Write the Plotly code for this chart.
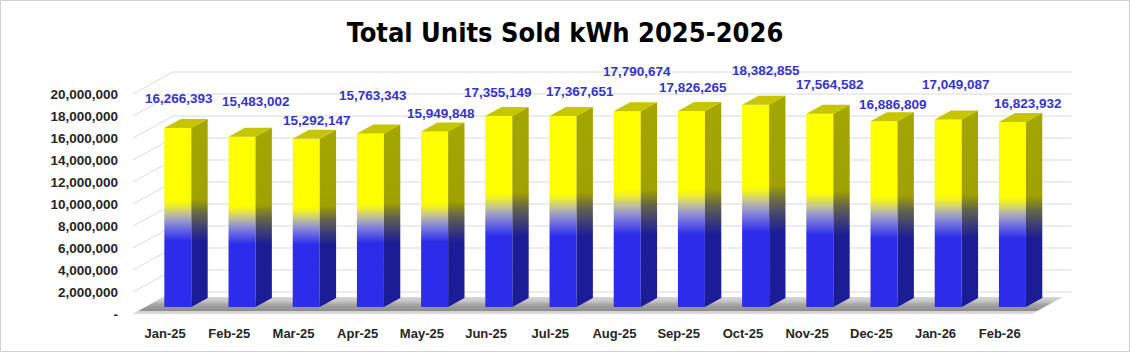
import plotly.graph_objects as go

# ---------------- data ----------------
months = ["Jan-25", "Feb-25", "Mar-25", "Apr-25", "May-25", "Jun-25", "Jul-25",
          "Aug-25", "Sep-25", "Oct-25", "Nov-25", "Dec-25", "Jan-26", "Feb-26"]
units_kwh = [16266393, 15483002, 15292147, 15763343, 15949848, 17355149, 17367651,
             17790674, 17826265, 18382855, 17564582, 16886809, 17049087, 16823932]
y_tick_vals = [0, 2000000, 4000000, 6000000, 8000000, 10000000, 12000000,
               14000000, 16000000, 18000000, 20000000]
y_tick_text = ["-", "2,000,000", "4,000,000", "6,000,000", "8,000,000", "10,000,000",
               "12,000,000", "14,000,000", "16,000,000", "18,000,000", "20,000,000"]

# label nudges (pixels) relative to each bar's top – layout only
label_dx_px = [1, 14, 11, 3, 6, -1, 17, 10, 2, 10, 10, 9, 8, 16]
label_dy_px = [30, 35, 18, 38, 18, 24, 24, 40, 23, 34, 29, 17, 35, 18]

# ---------------- layout geometry ----------------
W, H = 1130, 352
ML, MR, MT, MB = 133, 30, 50, 32
PX_PER_CAT = 64.2
PX_PER_KWH = 11e-6
n = len(months)
x_range = [-0.5, -0.5 + (W - ML - MR) / PX_PER_CAT]
y_bottom = -(6 / 11) * 1e6
y_range = [y_bottom, y_bottom + (H - MT - MB) / PX_PER_KWH]

DX = 40 / PX_PER_CAT          # depth offset along x (full depth)
DY = 22 / PX_PER_KWH          # depth offset along y (full depth)
D0, D1 = 0.318, 0.727         # bar front / back depth
HW = 13.5 / PX_PER_CAT        # half width of bar front face
FLOOR_D = 0.77


def P(x, v, d):
    return x + DX * d, v + DY * d


def poly(points):
    xs = [p[0] for p in points] + [points[0][0]]
    ys = [p[1] for p in points] + [points[0][1]]
    return xs, ys


fig = go.Figure()

# back/side wall gridlines
gx, gy = [], []
for t in y_tick_vals:
    for (x, d) in [(-0.5, 0), (-0.5, 1), (n - 0.5, 1)]:
        px_, py_ = P(x, t, d)
        gx.append(px_)
        gy.append(py_)
    gx.append(None)
    gy.append(None)
fig.add_trace(go.Scatter(x=gx, y=gy, mode="lines", line=dict(color="#d9d9d9", width=1),
                         hoverinfo="skip", showlegend=False))

# floor
fx, fy = poly([P(-0.5, 0, 0), P(n - 0.5, 0, 0), P(n - 0.5, 0, FLOOR_D), P(-0.5, 0, FLOOR_D)])
fig.add_trace(go.Scatter(
    x=fx, y=fy, mode="lines", line=dict(width=0), fill="toself",
    fillgradient=dict(type="vertical", start=0, stop=DY * FLOOR_D,
                      colorscale=[[0, "#dadada"], [0.16, "#d2d2d2"], [0.2, "#8e8e8e"],
                                  [0.55, "#a4a4a4"], [0.75, "#c4c4c4"], [1, "#d8d8d8"]]),
    hoverinfo="skip", showlegend=False))

front_scale = [[0, "rgb(44,44,234)"], [0.37, "rgb(44,44,234)"], [0.43, "rgb(100,100,228)"],
               [0.48, "rgb(150,150,205)"], [0.52, "rgb(192,192,150)"], [0.57, "rgb(240,240,40)"],
               [0.60, "rgb(255,255,0)"], [1, "rgb(255,255,0)"]]
side_scale = [[0, "rgb(28,28,150)"], [0.37, "rgb(28,28,150)"], [0.45, "rgb(65,65,115)"],
              [0.52, "rgb(100,100,75)"], [0.60, "rgb(160,160,0)"], [1, "rgb(165,165,0)"]]
TOP_COLOR = "rgb(198,198,0)"

for i, v in enumerate(units_kwh):
    yb = DY * D0
    yt = v + DY * D0
    # front face
    xs, ys = poly([P(i - HW, 0, D0), P(i + HW, 0, D0), P(i + HW, v, D0), P(i - HW, v, D0)])
    fig.add_trace(go.Scatter(x=xs, y=ys, mode="lines", line=dict(width=0), fill="toself",
                             fillgradient=dict(type="vertical", start=yb, stop=yt,
                                               colorscale=front_scale),
                             hoverinfo="skip", showlegend=False))
    # side face
    xs, ys = poly([P(i + HW, 0, D0), P(i + HW, 0, D1), P(i + HW, v, D1), P(i + HW, v, D0)])
    fig.add_trace(go.Scatter(x=xs, y=ys, mode="lines", line=dict(width=0), fill="toself",
                             fillgradient=dict(type="vertical", start=yb, stop=yt,
                                               colorscale=side_scale),
                             hoverinfo="skip", showlegend=False))
    # top face
    xs, ys = poly([P(i - HW, v, D0), P(i + HW, v, D0), P(i + HW, v, D1), P(i - HW, v, D1)])
    fig.add_trace(go.Scatter(x=xs, y=ys, mode="lines", line=dict(width=0), fill="toself",
                             fillcolor=TOP_COLOR, hoverinfo="skip", showlegend=False))
    # value label
    lx, ly = P(i, v, D0)
    fig.add_annotation(x=lx, y=ly, xref="x", yref="y", text=f"{v:,}", showarrow=False,
                       xshift=label_dx_px[i], yshift=label_dy_px[i], yanchor="middle",
                       font=dict(family="Liberation Sans, Arial, sans-serif", size=13.5,
                                 color="#3434CC", weight="bold"))

pw = W - ML - MR
ph = H - MT - MB
fig.add_shape(type="rect", xref="paper", yref="paper",
              x0=-(ML - 0.5) / pw, x1=1 + (MR - 0.5) / pw,
              y0=-(MB - 0.5) / ph, y1=1 + (MT - 0.5) / ph,
              line=dict(color="#d0d0d0", width=1), fillcolor="rgba(0,0,0,0)", layer="above")

fig.update_layout(
    width=W, height=H,
    margin=dict(l=ML, r=MR, t=MT, b=MB, pad=0),
    paper_bgcolor="white", plot_bgcolor="white",
    showlegend=False,
    title=dict(text="Total Units Sold kWh 2025-2026", x=0.5, xref="container", xanchor="center",
               y=1 - 33 / H, yref="container", yanchor="middle",
               font=dict(family="DejaVu Sans Condensed, sans-serif",
                         size=27, color="black", weight="bold")),
    xaxis=dict(range=x_range, tickmode="array", tickvals=list(range(n)), ticktext=months,
               showgrid=False, zeroline=False, showline=False, ticks="",
               ticklabelstandoff=4,
               tickfont=dict(family="Liberation Sans, Arial, sans-serif", size=13,
                             color="#262626", weight="bold"), fixedrange=True),
    yaxis=dict(range=y_range, tickmode="array", tickvals=y_tick_vals, ticktext=y_tick_text,
               showgrid=False, zeroline=False, showline=False, ticks="",
               ticklabelstandoff=14,
               tickfont=dict(family="Liberation Sans, Arial, sans-serif", size=13.5,
                             color="#262626", weight="bold"), fixedrange=True),
)

fig.write_html("out.html")
